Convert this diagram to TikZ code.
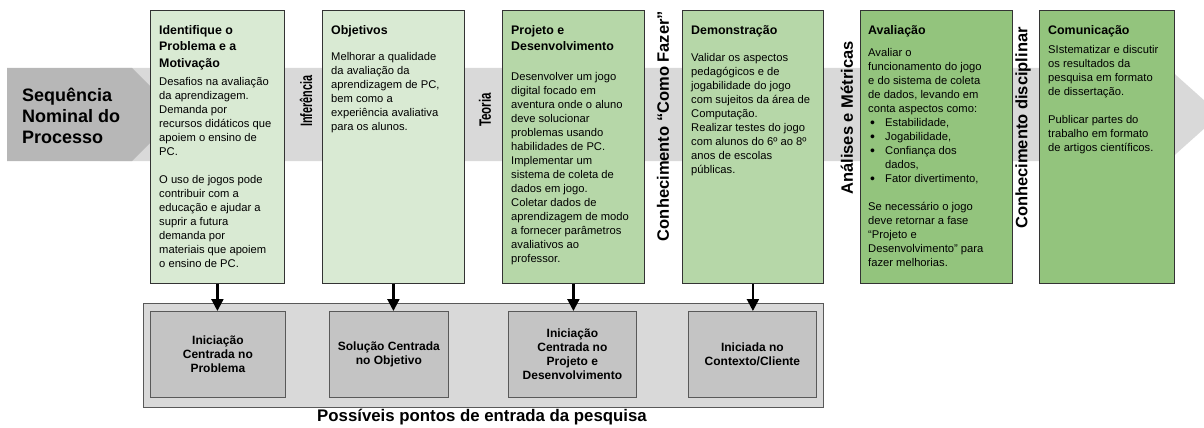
\documentclass[tikz,border=0pt]{standalone}
\usepackage{fontspec}
\setmainfont{Liberation Sans}
\usetikzlibrary{arrows.meta}

\definecolor{faixa}{HTML}{D9D9D9}
\definecolor{setaesq}{HTML}{B7B7B7}
\definecolor{verde1}{HTML}{D9EAD3}
\definecolor{verde2}{HTML}{B6D7A8}
\definecolor{verde3}{HTML}{93C47D}
\definecolor{fundo}{HTML}{D9D9D9}
\definecolor{entrada}{HTML}{C4C4C4}

\tikzset{
  etapa/.style={draw=black!80, line width=0.8pt, anchor=north west, minimum height=273pt, inner sep=0pt},
  titulo/.style={anchor=north west, align=left, inner sep=0pt, font=\bfseries\fontsize{12.4}{16.5}\selectfont},
  texto/.style={anchor=north west, align=left, inner sep=0pt, font=\fontsize{11.2}{14}\selectfont},
  rotulo/.style={rotate=90, inner sep=0pt, font=\bfseries\fontsize{16.5}{20}\selectfont},
  ponto/.style={draw=black!65, fill=entrada, line width=0.8pt, anchor=north west, minimum height=86pt, inner sep=0pt, align=center, font=\bfseries\fontsize{12}{14}\selectfont},
  seta/.style={line width=2.2pt, -{Triangle[length=12pt,width=12pt]}}
}
\newcommand{\marca}{\makebox[17pt][l]{\hspace{2pt}\raisebox{-0.5pt}{\fontsize{14}{14}\selectfont •}}}

\begin{document}
\begin{tikzpicture}[x=1pt, y=-1pt]
\useasboundingbox (0,0) rectangle (1204,428);
% faixa do processo
\fill[faixa] (100,68) -- (1168,68) -- (1220,114.5) -- (1168,161) -- (100,161) -- cycle;
\fill[setaesq] (7,68) -- (132,68) -- (178.5,114.5) -- (132,161) -- (7,161) -- cycle;
\node[anchor=west, align=left, inner sep=0pt, font=\bfseries\fontsize{18}{21}\selectfont] (seq) at (22,115.5) {Sequência\\Nominal do\\Processo};

% etapas
\node[etapa, fill=verde1, minimum width=134pt] (b1) at (150,10) {};
\node[etapa, fill=verde1, minimum width=142pt] (b2) at (322,10) {};
\node[etapa, fill=verde2, minimum width=142pt] (b3) at (502,10) {};
\node[etapa, fill=verde2, minimum width=141pt] (b4) at (682,10) {};
\node[etapa, fill=verde3, minimum width=152pt] (b5) at (860,10) {};
\node[etapa, fill=verde3, minimum width=135pt] (b6) at (1039,10) {};

\node[titulo] (t1) at (159,22.3) {\strut Identifique o\\Problema e a\\Motivação};
\node[texto] (c1) at (159,75) {\strut Desafios na avaliação\\da aprendizagem.\\Demanda por\\recursos didáticos que\\apoiem o ensino de\\PC.\\[14pt]O uso de jogos pode\\contribuir com a\\educação e ajudar a\\suprir a futura\\demanda por\\materiais que apoiem\\o ensino de PC.};

\node[titulo] (t2) at (331,22.3) {\strut Objetivos};
\node[texto] (c2) at (331,50.7) {\strut Melhorar a qualidade\\da avaliação da\\aprendizagem de PC,\\bem como a\\experiência avaliativa\\para os alunos.};

\node[titulo] (t3) at (511,22.3) {\strut Projeto e\\Desenvolvimento};
\node[texto] (c3) at (511,70.7) {\strut Desenvolver um jogo\\digital focado em\\aventura onde o aluno\\deve solucionar\\problemas usando\\habilidades de PC.\\Implementar um\\sistema de coleta de\\dados em jogo.\\Coletar dados de\\aprendizagem de modo\\a fornecer parâmetros\\avaliativos ao\\professor.};

\node[titulo] (t4) at (691,22.3) {\strut Demonstração};
\node[texto] (c4) at (691,51.7) {\strut Validar os aspectos\\pedagógicos e de\\jogabilidade do jogo\\com sujeitos da área de\\Computação.\\Realizar testes do jogo\\com alunos do 6º ao 8º\\anos de escolas\\públicas.};

\node[titulo] (t5) at (868,22.3) {\strut Avaliação};
\node[texto] (c5) at (868,46.7) {\strut Avaliar o\\funcionamento do jogo\\e do sistema de coleta\\de dados, levando em\\conta aspectos como:\\\marca Estabilidade,\\\marca Jogabilidade,\\\marca Confiança dos\\\hspace*{17pt}dados,\\\marca Fator divertimento,\\[14pt]Se necessário o jogo\\deve retornar a fase\\“Projeto e\\Desenvolvimento” para\\fazer melhorias.};

\node[titulo] (t6) at (1048,22.3) {\strut Comunicação};
\node[texto] (c6) at (1048,43.7) {\strut SIstematizar e discutir\\os resultados da\\pesquisa em formato\\de dissertação.\\[14pt]Publicar partes do\\trabalho em formato\\de artigos científicos.};

% conhecimentos entre as etapas
\node[rotulo] (l1) at (306,101) {\scalebox{0.66}[1]{Inferência}};
\node[rotulo] (l2) at (485,110) {\scalebox{0.7}[1]{Teoria}};
\node[rotulo] (l3) at (663,126) {Conhecimento “Como Fazer”};
\node[rotulo] (l4) at (847,118) {Análises e Métricas};
\node[rotulo] (l5) at (1023,128) {Conhecimento disciplinar};

% pontos de entrada
\node[draw=black!65, fill=fundo, line width=0.8pt, anchor=north west, minimum width=680pt, minimum height=104pt, inner sep=0pt] (base) at (143,303) {};
\node[ponto, minimum width=135pt] (e1) at (150,311) {Iniciação\\Centrada no\\Problema};
\node[ponto, minimum width=119pt] (e2) at (329,311) {Solução Centrada\\no Objetivo};
\node[ponto, minimum width=128pt] (e3) at (508,311) {Iniciação\\Centrada no\\Projeto e\\Desenvolvimento};
\node[ponto, minimum width=128pt] (e4) at (688,311) {Iniciada no\\Contexto/Cliente};
\foreach \i in {1,...,4}
  \draw[seta] (b\i.south) -- (b\i.south |- e\i.north);
\node[inner sep=0pt, font=\bfseries\fontsize{16.8}{20}\selectfont] (leg) at (482,417) {Possíveis pontos de entrada da pesquisa};
\end{tikzpicture}
\end{document}
